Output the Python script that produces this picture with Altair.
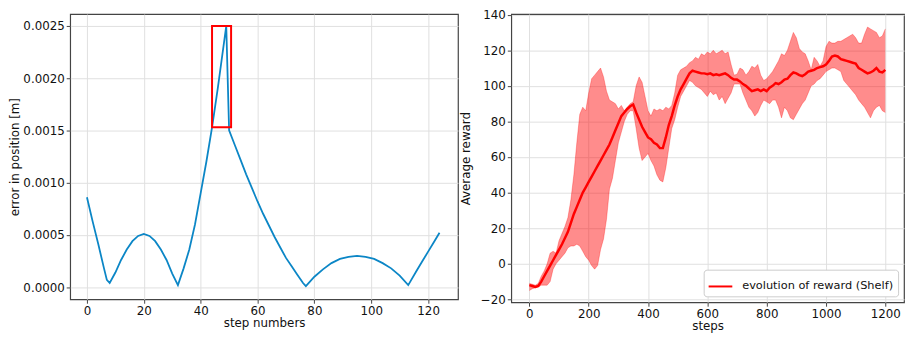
import altair as alt
import pandas as pd

# ---------------- left panel data ----------------
err_steps = [0, 2, 4, 6, 7, 8, 10, 12, 14, 16, 18, 20, 22, 24, 26, 28, 30, 32,
             34, 36, 38, 40, 42, 44, 46, 48, 49, 50, 52, 54, 56, 58, 60, 62, 64,
             66, 68, 70, 72, 74, 76, 77, 80, 83, 86, 89, 92, 95, 98, 101, 104,
             107, 110, 113, 116, 118, 120, 122, 124]
err_vals = [0.00086, 0.00063, 0.00041, 0.00018, 0.00007, 0.00004, 0.00014,
            0.00026, 0.00036, 0.00044, 0.00049, 0.00051, 0.00049, 0.00044,
            0.00036, 0.00026, 0.00013, 0.00002, 0.00018, 0.00036, 0.00060,
            0.00090, 0.00120, 0.00153, 0.00190, 0.00230, 0.00250, 0.00150,
            0.00136, 0.00122, 0.00108, 0.00095, 0.00082, 0.00070, 0.00059,
            0.00048, 0.00038, 0.00028, 0.00020, 0.00012, 0.00004, 0.00001,
            0.00010, 0.00017, 0.00023, 0.00027, 0.00029, 0.00030, 0.00029,
            0.00027, 0.00023, 0.00018, 0.00011, 0.00002, 0.00016, 0.00025,
            0.00034, 0.00043, 0.00052]
box_x = [44.0, 50.7]
box_y = [0.00153, 0.0025]

# ---------------- right panel data ----------------
reward_steps = list(range(0, 1201, 10))
reward_mean = [-12, -12.5, -13, -12.5, -10, -7, -4, -1, 2, 5,
               8, 11, 14.5, 18, 23, 28, 32, 36, 40, 43,
               46, 49, 52, 55, 58, 61, 64, 67, 71, 75,
               79, 83, 85, 87, 88.5, 89.5, 85, 81, 77, 74,
               71, 70, 68, 67, 65, 65, 71, 78, 83, 89,
               94, 98, 101, 104, 107, 108.5, 108, 107.5, 107, 107,
               106.5, 107, 106, 106.5, 106, 106.5, 107, 106, 104.5, 103.5,
               103.5, 102.5, 101, 100, 98.5, 97, 97.5, 98, 97, 98,
               97, 99, 100, 101.5, 101, 102, 103.5, 104, 106, 107.5,
               107, 106, 105.5, 106.5, 108, 108.5, 109, 110, 110.5, 111,
               112, 114, 116.5, 117, 116.5, 115, 114.5, 114, 113.5, 113,
               112.5, 110, 109, 108, 107, 107.5, 108.5, 110, 108, 107.5,
               109]
reward_low = [-15, -14, -13.5, -13, -12, -12, -12, -10, -3, 0,
              2, 4, 6, 9, 10, 10, 11, 10, 7, 4,
              2, -1, -3, -1, 8, 14, 25, 42, 48, 58,
              68, 74, 80, 84, 86, 86, 76, 65, 58, 60,
              62, 58, 55, 50, 47, 46, 54, 65, 76, 81,
              88, 94, 97, 100, 103, 102, 100, 99, 98, 96,
              94, 97, 95, 96, 92, 94, 90, 93, 96, 101,
              101, 101, 96, 92, 88, 86, 83, 85, 89, 92,
              91, 90, 92, 92, 88, 82, 88, 86, 82, 81,
              84, 87, 90, 92, 96, 100, 101, 103, 104, 106,
              108, 109, 110, 110, 109, 108, 103, 101, 99, 97,
              95, 92, 90, 88, 85, 82, 86, 88, 89, 86,
              85]
reward_high = [-11, -11.5, -12, -11, -7, -4, 0, 6, 7, 6,
               13, 17, 21, 26, 36, 50, 68, 84, 88, 86,
               96, 104, 106, 108, 110, 105, 97, 92, 91, 90,
               87, 89, 86, 88, 90, 91, 100, 105, 102, 94,
               86, 83, 87, 86, 87, 86, 88, 87, 89, 96,
               106, 109, 110, 111, 113, 114, 116, 115, 118, 117,
               119, 118, 120, 118, 119, 120, 118, 119, 112, 106,
               106.5, 110, 109, 106, 108, 111, 110, 112, 106, 103,
               104, 106, 108, 111, 114, 118, 117, 120, 125, 130,
               127, 121, 119, 118, 114, 109, 116, 114, 111, 114,
               122, 125, 124, 124, 125, 125, 126, 127, 128, 129,
               127, 124, 124, 129, 133, 132, 131, 130, 127, 128,
               132]
legend_label = "evolution of reward (Shelf)"
err_ticks_x = [0, 20, 40, 60, 80, 100, 120]
err_ticks_y = [0, 0.0005, 0.001, 0.0015, 0.002, 0.0025]
rw_ticks_x = [0, 200, 400, 600, 800, 1000, 1200]
rw_ticks_y = [-20, 0, 20, 40, 60, 80, 100, 120, 140]

err_df = pd.DataFrame({"step": err_steps, "err": err_vals})
box_df = pd.DataFrame({"x0": [box_x[0]], "x1": [box_x[1]],
                       "y0": [box_y[0]], "y1": [box_y[1]]})
rw_df = pd.DataFrame({"step": reward_steps, "mean": reward_mean,
                      "low": reward_low, "high": reward_high,
                      "series": legend_label})

# ---------------- left panel ----------------
lx_scale = alt.Scale(domain=[-5.9, 130.5], nice=False, zero=False)
ly_scale = alt.Scale(domain=[-0.000116, 0.002613], nice=False, zero=False)
lx_axis = alt.Axis(values=err_ticks_x, format="d", titlePadding=2, labelOverlap=False)
ly_axis = alt.Axis(values=err_ticks_y, format=".4f", titlePadding=1, labelOverlap=False)
left_line = alt.Chart(err_df).mark_line(color="#0b86c6", strokeWidth=1.8).encode(
    x=alt.X("step:Q", title="step numbers", scale=lx_scale, axis=lx_axis),
    y=alt.Y("err:Q", title="error in position [m]", scale=ly_scale, axis=ly_axis))
left_box = alt.Chart(box_df).mark_rect(fillOpacity=0, stroke="#ff0000", strokeWidth=2).encode(
    x=alt.X("x0:Q", title="step numbers", scale=lx_scale, axis=lx_axis), x2="x1:Q",
    y=alt.Y("y0:Q", title="error in position [m]", scale=ly_scale, axis=ly_axis), y2="y1:Q")
left = alt.layer(left_line, left_box).properties(width=393, height=289)

# ---------------- right panel ----------------
rx_scale = alt.Scale(domain=[-61, 1263], nice=False, zero=False)
ry_scale = alt.Scale(domain=[-21.6, 140.3], nice=False, zero=False)
rx_axis = alt.Axis(values=rw_ticks_x, format="d", titlePadding=2, labelOverlap=False)
ry_axis = alt.Axis(values=rw_ticks_y, format="d", titlePadding=8, labelOverlap=False)
rx = alt.X("step:Q", title="steps", scale=rx_scale, axis=rx_axis)
band = alt.Chart(rw_df).mark_area(color="#ff0000", opacity=0.45).encode(
    x=rx,
    y=alt.Y("low:Q", title="Average reward", scale=ry_scale, axis=ry_axis),
    y2="high:Q")
edge_low = alt.Chart(rw_df).mark_line(color="#ff0000", opacity=0.3, strokeWidth=1).encode(
    x=rx, y=alt.Y("low:Q", title="Average reward", scale=ry_scale, axis=ry_axis))
edge_high = alt.Chart(rw_df).mark_line(color="#ff0000", opacity=0.3, strokeWidth=1).encode(
    x=rx, y=alt.Y("high:Q", title="Average reward", scale=ry_scale, axis=ry_axis))
mean_line = alt.Chart(rw_df).mark_line(strokeWidth=2.5).encode(
    x=rx,
    y=alt.Y("mean:Q", title="Average reward", scale=ry_scale, axis=ry_axis),
    color=alt.Color("series:N",
                    scale=alt.Scale(domain=[legend_label], range=["#ff0000"]),
                    legend=alt.Legend(title=None, orient="bottom-right", offset=6,
                                      symbolType="stroke", symbolSize=576,
                                      symbolStrokeWidth=2, labelFontSize=11.5,
                                      labelColor="#111", labelOffset=9,
                                      padding=4, strokeColor="#cccccc",
                                      fillColor="#ffffff", cornerRadius=3)))
right = alt.layer(band, edge_low, edge_high, mean_line).properties(width=398, height=292)

chart = alt.hconcat(left, right, spacing=0).resolve_legend(
    color="independent"
).configure(
    font="DejaVu Sans",
    padding={"left": 0, "top": -3, "right": 0, "bottom": 0},
).configure_view(
    stroke="#444444", strokeWidth=1.2
).configure_axis(
    domain=False, grid=True, gridColor="#e0e0e0", gridWidth=1,
    ticks=True, tickColor="#444444", tickSize=4, tickWidth=1,
    labelFontSize=12, labelColor="#111111", labelPadding=2,
    titleFontSize=12, titleFontWeight="normal", titleColor="#111111",
)

chart.save("out.html", embed_options={"renderer": "svg", "actions": False})
